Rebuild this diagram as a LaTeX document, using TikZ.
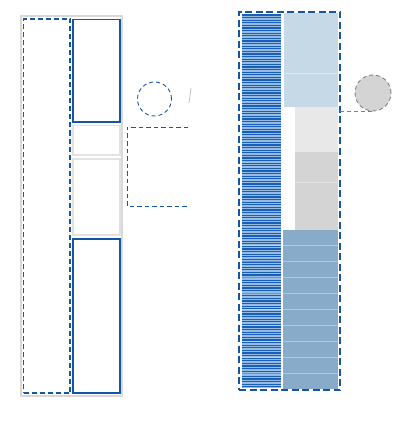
\documentclass[tikz,border=0pt]{standalone}
\usetikzlibrary{positioning}

\definecolor{frameg}{RGB}{217,217,217}
\definecolor{cellg}{RGB}{226,226,226}
\definecolor{deepblue}{RGB}{22,84,164}
\definecolor{paleblue}{RGB}{197,217,230}
\definecolor{palegray}{RGB}{232,232,232}
\definecolor{midgray}{RGB}{212,212,212}
\definecolor{steel}{RGB}{135,171,201}
\definecolor{stripbase}{RGB}{150,188,228}
\definecolor{stripline}{RGB}{25,95,185}

\begin{document}
\begin{tikzpicture}[
    x=1pt, y=-1pt,
    box/.style={anchor=north west, inner sep=0pt, outer sep=0pt},
    outerframe/.style={box, draw=frameg, line width=2pt},
    dashframe/.style={box, draw=deepblue, line width=1.9pt, dash pattern=on 5pt off 3pt},
    bluecell/.style={box, draw=deepblue, line width=1.6pt},
    graycell/.style={box, draw=cellg, line width=1.6pt},
    fillcell/.style={box},
    dot/.style={circle, inner sep=0pt, outer sep=0pt},
    sep/.style={white, line width=0.6pt, opacity=0.35}
]
\useasboundingbox (0,0) rectangle (405,422);

% left column
\node[outerframe, minimum width=101pt, minimum height=380pt] (lframe) at (21,16) {};
\node[dashframe, minimum width=46.5pt, minimum height=374pt] (lslot) at (23.5,19) {};
\node[bluecell, minimum width=47pt, minimum height=102.5pt] (ltop) at (73,19.5) {};
\node[graycell, minimum width=47pt, minimum height=29.5pt] (lsmall) at (73,125.5) {};
\node[graycell, minimum width=47pt, minimum height=76pt] (lmid) at (73,159) {};
\node[bluecell, minimum width=47pt, minimum height=154pt] (lbot) at (73,239) {};

\node[dot, draw=deepblue, line width=0.9pt, dash pattern=on 4pt off 3pt,
      minimum size=34pt] (lcirc) at (154.5,99) {};
\draw[gray!50, line width=0.8pt] (191,88) -- (189,103);

% open bracket
\draw[deepblue, line width=0.9pt, dash pattern=on 4.5pt off 3pt]
    (188,127) -- (127,127) -- (127,206) -- (188,206);

% right column
\node[fillcell, fill=stripbase, minimum width=39pt, minimum height=374pt] (strip) at (242,14) {};
\foreach \y in {15,17.6,...,388}
    \draw[stripline, line width=1.1pt] (242,\y) -- (281,\y);

\node[fillcell, fill=paleblue, minimum width=54pt, minimum height=94pt] (rtop) at (284,13) {};
\node[fillcell, fill=palegray, minimum width=43pt, minimum height=45pt] (rlight) at (295,107) {};
\node[fillcell, fill=midgray, minimum width=43pt, minimum height=78pt] (rmid) at (295,152) {};
\node[fillcell, fill=steel, minimum width=55pt, minimum height=159pt] (rbot) at (283,230) {};

\draw[sep] (rtop.west |- 0,73) -- (rtop.east |- 0,73);
\draw[sep] (rmid.west |- 0,182) -- (rmid.east |- 0,182);
\foreach \y in {245,261,...,373}
    \draw[sep] (strip.west |- 0,\y) -- (rbot.east |- 0,\y);

\node[box, draw=deepblue, line width=2.8pt, dash pattern=on 7pt off 3.5pt,
      minimum width=101pt, minimum height=378pt] (rframe) at (239,12) {};

\node[dot, fill=midgray, draw=gray, line width=0.9pt, dash pattern=on 4pt off 3pt,
      minimum size=36pt] (gcirc) at (373,93) {};
\draw[gray, line width=0.9pt, dash pattern=on 4pt off 3pt]
    (rframe.east |- gcirc.south) -- (gcirc.south);

\end{tikzpicture}
\end{document}
